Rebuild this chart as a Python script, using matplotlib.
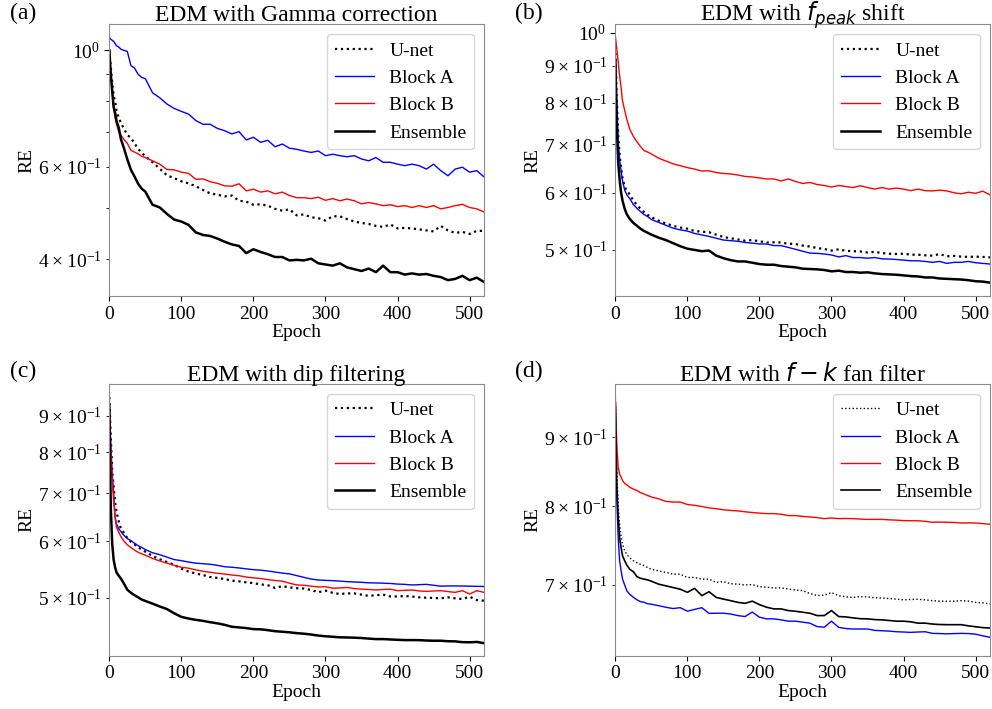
import matplotlib
matplotlib.use("Agg")
import matplotlib.pyplot as plt

plt.rcParams["font.family"] = "serif"
plt.rcParams["font.serif"] = ["Liberation Serif", "DejaVu Serif"]
plt.rcParams["mathtext.fontset"] = "dejavusans"

epochs = [0, 2, 4, 6, 8, 10, 13, 16, 20, 25, 30, 35, 40, 45, 50] + list(range(60, 521, 10))

# (a) EDM with Gamma correction
gamma_unet = [
    1.0, 0.93, 0.87, 0.82, 0.80, 0.767, 0.745, 0.728, 0.71, 0.69, 0.681, 0.665, 0.649, 0.638, 0.628,
    0.612, 0.595, 0.578, 0.571, 0.563, 0.558, 0.551, 0.542, 0.534, 0.531,
    0.527, 0.529, 0.517, 0.515, 0.508, 0.509, 0.506, 0.499, 0.495, 0.498,
    0.485, 0.487, 0.481, 0.479, 0.474, 0.483, 0.483, 0.477, 0.472, 0.469,
    0.467, 0.463, 0.461, 0.466, 0.458, 0.459, 0.458, 0.456, 0.454, 0.452,
    0.463, 0.454, 0.449, 0.451, 0.447, 0.453, 0.453,
]
gamma_block_a = [
    1.057, 1.05, 1.045, 1.04, 1.03, 1.02, 1.015, 1.005, 1.0, 0.995, 0.935, 0.925, 0.90, 0.888, 0.883,
    0.83, 0.812, 0.79, 0.775, 0.765, 0.756, 0.735, 0.723, 0.723, 0.71,
    0.703, 0.693, 0.70, 0.675, 0.683, 0.668, 0.674, 0.655, 0.663, 0.651,
    0.648, 0.643, 0.639, 0.643, 0.630, 0.634, 0.630, 0.627, 0.630, 0.621,
    0.616, 0.625, 0.612, 0.612, 0.607, 0.603, 0.607, 0.603, 0.594, 0.607,
    0.590, 0.577, 0.594, 0.599, 0.586, 0.590, 0.574,
]
gamma_block_b = [
    1.0, 0.91, 0.83, 0.775, 0.745, 0.723, 0.70, 0.69, 0.677, 0.665, 0.645, 0.64, 0.635, 0.628, 0.625,
    0.616, 0.607, 0.593, 0.592, 0.586, 0.583, 0.568, 0.569, 0.562, 0.558,
    0.552, 0.551, 0.557, 0.540, 0.544, 0.537, 0.540, 0.533, 0.537, 0.529,
    0.524, 0.524, 0.522, 0.525, 0.518, 0.522, 0.517, 0.521, 0.517, 0.510,
    0.513, 0.510, 0.506, 0.508, 0.504, 0.506, 0.502, 0.506, 0.502, 0.506,
    0.499, 0.502, 0.506, 0.509, 0.502, 0.499, 0.492,
]
gamma_ensemble = [
    1.0, 0.90, 0.837, 0.78, 0.76, 0.734, 0.713, 0.678, 0.653, 0.62, 0.592, 0.575, 0.557, 0.545, 0.538,
    0.508, 0.502, 0.488, 0.476, 0.472, 0.465, 0.450, 0.445, 0.443, 0.438,
    0.432, 0.427, 0.424, 0.411, 0.418, 0.413, 0.409, 0.404, 0.404, 0.398,
    0.399, 0.398, 0.401, 0.393, 0.391, 0.389, 0.393, 0.386, 0.383, 0.380,
    0.384, 0.378, 0.389, 0.378, 0.378, 0.374, 0.376, 0.374, 0.375, 0.372,
    0.370, 0.365, 0.367, 0.372, 0.365, 0.369, 0.362,
]

# (b) EDM with f_peak shift
fpeak_unet = [
    0.955, 0.81, 0.72, 0.675, 0.65, 0.628, 0.612, 0.603, 0.597, 0.585, 0.577, 0.570, 0.564, 0.559, 0.555,
    0.549, 0.544, 0.540, 0.537, 0.535, 0.531, 0.530, 0.529, 0.525, 0.521,
    0.519, 0.517, 0.515, 0.516, 0.514, 0.512, 0.5123, 0.512, 0.510, 0.5096,
    0.507, 0.5055, 0.503, 0.5015, 0.499, 0.501, 0.4985, 0.498, 0.4975, 0.496,
    0.497, 0.495, 0.494, 0.4936, 0.494, 0.4925, 0.4925, 0.4915, 0.491, 0.4935,
    0.490, 0.4905, 0.4895, 0.489, 0.4894, 0.489, 0.4883,
]
fpeak_block_a = [
    0.945, 0.80, 0.708, 0.665, 0.6436, 0.6234, 0.605, 0.596, 0.589, 0.578, 0.571, 0.565, 0.5596, 0.556, 0.551,
    0.546, 0.541, 0.536, 0.533, 0.531, 0.527, 0.5245, 0.522, 0.519, 0.516,
    0.515, 0.514, 0.512, 0.511, 0.5096, 0.5096, 0.507, 0.507, 0.504, 0.501,
    0.498, 0.495, 0.4946, 0.4935, 0.492, 0.489, 0.491, 0.488, 0.488, 0.487,
    0.488, 0.486, 0.4857, 0.485, 0.484, 0.483, 0.483, 0.482, 0.4806, 0.482,
    0.479, 0.4806, 0.4806, 0.482, 0.480, 0.479, 0.478,
]
fpeak_block_b = [
    0.989, 0.95, 0.91, 0.87, 0.839, 0.804, 0.78, 0.758, 0.735, 0.718, 0.706, 0.695, 0.686, 0.683, 0.679,
    0.670, 0.664, 0.658, 0.654, 0.650, 0.647, 0.643, 0.6435, 0.640, 0.638,
    0.637, 0.635, 0.632, 0.631, 0.629, 0.627, 0.627, 0.623, 0.627, 0.622,
    0.618, 0.620, 0.616, 0.614, 0.611, 0.614, 0.612, 0.610, 0.6135, 0.610,
    0.607, 0.610, 0.607, 0.609, 0.607, 0.604, 0.607, 0.604, 0.6035, 0.605,
    0.6035, 0.600, 0.598, 0.601, 0.599, 0.603, 0.596,
]
fpeak_ensemble = [
    0.91, 0.74, 0.66, 0.625, 0.60, 0.585, 0.570, 0.560, 0.552, 0.545, 0.540, 0.535, 0.531, 0.528, 0.525,
    0.520, 0.516, 0.511, 0.506, 0.502, 0.500, 0.498, 0.499, 0.491, 0.487,
    0.484, 0.482, 0.482, 0.480, 0.478, 0.477, 0.477, 0.475, 0.474, 0.473,
    0.471, 0.4705, 0.470, 0.469, 0.467, 0.468, 0.466, 0.466, 0.465, 0.4655,
    0.464, 0.463, 0.4625, 0.462, 0.461, 0.460, 0.4595, 0.458, 0.458, 0.4565,
    0.456, 0.4555, 0.455, 0.454, 0.4525, 0.452, 0.4505,
]

# (c) EDM with dip filtering
dip_unet = [
    0.955, 0.84, 0.754, 0.715, 0.68, 0.66, 0.64, 0.625, 0.617, 0.606, 0.599, 0.594, 0.588, 0.584, 0.580,
    0.572, 0.566, 0.561, 0.556, 0.549, 0.544, 0.5405, 0.538, 0.5345, 0.533,
    0.531, 0.5283, 0.527, 0.5255, 0.524, 0.522, 0.5205, 0.516, 0.519, 0.517,
    0.5156, 0.515, 0.5126, 0.509, 0.5115, 0.508, 0.506, 0.507, 0.507, 0.505,
    0.503, 0.504, 0.505, 0.502, 0.502, 0.5027, 0.502, 0.5006, 0.500, 0.4995,
    0.499, 0.5006, 0.499, 0.4979, 0.5016, 0.4963, 0.4952,
]
dip_block_a = [
    0.925, 0.82, 0.745, 0.70, 0.648, 0.634, 0.625, 0.619, 0.612, 0.605, 0.601, 0.596, 0.5914, 0.588, 0.584,
    0.578, 0.5745, 0.570, 0.5655, 0.5635, 0.561, 0.559, 0.558, 0.557, 0.555,
    0.5526, 0.5516, 0.5504, 0.5488, 0.5474, 0.5465, 0.545, 0.5432, 0.5413, 0.540,
    0.537, 0.534, 0.531, 0.5294, 0.5288, 0.5283, 0.5275, 0.5266, 0.526, 0.5255,
    0.5246, 0.5244, 0.524, 0.5235, 0.5225, 0.522, 0.521, 0.5215, 0.522, 0.5205,
    0.519, 0.5194, 0.5194, 0.5192, 0.519, 0.5187, 0.5184,
]
dip_block_b = [
    0.93, 0.81, 0.73, 0.685, 0.648, 0.6276, 0.618, 0.609, 0.601, 0.593, 0.588, 0.583, 0.5788, 0.576, 0.5735,
    0.5675, 0.563, 0.559, 0.555, 0.5516, 0.550, 0.547, 0.5445, 0.5428, 0.541,
    0.5397, 0.538, 0.5368, 0.5345, 0.533, 0.532, 0.530, 0.5285, 0.5275, 0.524,
    0.521, 0.5205, 0.519, 0.5177, 0.518, 0.5156, 0.516, 0.5169, 0.515, 0.514,
    0.5135, 0.5126, 0.5135, 0.514, 0.5115, 0.512, 0.5126, 0.511, 0.5103, 0.511,
    0.5115, 0.510, 0.5087, 0.5115, 0.506, 0.5115, 0.5087,
]
dip_ensemble = [
    0.93, 0.67, 0.595, 0.565, 0.5516, 0.5425, 0.5368, 0.532, 0.524, 0.513, 0.508, 0.504, 0.5006, 0.497, 0.4948,
    0.4905, 0.486, 0.482, 0.4755, 0.470, 0.4675, 0.4655, 0.464, 0.462, 0.4603,
    0.4581, 0.4553, 0.4543, 0.4533, 0.4518, 0.4515, 0.4503, 0.4488, 0.448, 0.4472,
    0.446, 0.4452, 0.444, 0.4425, 0.4415, 0.4408, 0.440, 0.4398, 0.4395, 0.439,
    0.4382, 0.4375, 0.4375, 0.437, 0.4365, 0.4361, 0.4361, 0.436, 0.4355, 0.4352,
    0.4352, 0.4345, 0.4343, 0.4332, 0.433, 0.4335, 0.4318,
]

# (d) EDM with f-k fan filter
fk_unet = [
    0.955, 0.85, 0.80, 0.775, 0.76, 0.7505, 0.742, 0.737, 0.733, 0.7295, 0.727, 0.725, 0.7233, 0.721, 0.719,
    0.717, 0.7152, 0.713, 0.713, 0.709, 0.709, 0.707, 0.707, 0.703, 0.704,
    0.7015, 0.701, 0.700, 0.7005, 0.698, 0.6973, 0.6965, 0.6965, 0.6953, 0.694,
    0.6933, 0.690, 0.6875, 0.688, 0.691, 0.6874, 0.686, 0.6854, 0.6862, 0.686,
    0.685, 0.6846, 0.684, 0.6834, 0.6825, 0.683, 0.6832, 0.6825, 0.6816, 0.681,
    0.6808, 0.681, 0.6816, 0.681, 0.6796, 0.679, 0.6777,
]
fk_block_a = [
    0.953, 0.81, 0.758, 0.729, 0.7172, 0.707, 0.700, 0.693, 0.689, 0.6855, 0.6825, 0.6805, 0.6796, 0.678, 0.6775,
    0.6758, 0.674, 0.6725, 0.6735, 0.6695, 0.6715, 0.6735, 0.667, 0.6672, 0.6672,
    0.6663, 0.6645, 0.6634, 0.6685, 0.6627, 0.6608, 0.6608, 0.6597, 0.6582, 0.6582,
    0.6571, 0.656, 0.6522, 0.6515, 0.6582, 0.6513, 0.650, 0.6495, 0.6495, 0.6495,
    0.648, 0.6476, 0.6472, 0.6465, 0.6462, 0.6458, 0.6462, 0.6465, 0.6447, 0.6445,
    0.6442, 0.6445, 0.6447, 0.6445, 0.6438, 0.642, 0.6404,
]
fk_block_b = [
    0.963, 0.89, 0.855, 0.845, 0.8408, 0.836, 0.832, 0.830, 0.8265, 0.824, 0.822, 0.819, 0.817, 0.815, 0.813,
    0.8105, 0.807, 0.806, 0.806, 0.8027, 0.8015, 0.800, 0.798, 0.797, 0.7955,
    0.7946, 0.794, 0.7928, 0.7918, 0.791, 0.7903, 0.7903, 0.7895, 0.7877, 0.7877,
    0.7866, 0.7858, 0.785, 0.7836, 0.7845, 0.7836, 0.7838, 0.7836, 0.783, 0.7826,
    0.7826, 0.7826, 0.782, 0.7816, 0.781, 0.7808, 0.7808, 0.780, 0.7788, 0.779,
    0.7788, 0.7785, 0.7778, 0.778, 0.7778, 0.777, 0.7761,
]
fk_ensemble = [
    0.955, 0.83, 0.785, 0.758, 0.746, 0.7357, 0.7294, 0.724, 0.719, 0.716, 0.710, 0.708, 0.707, 0.706, 0.7045,
    0.701, 0.699, 0.697, 0.695, 0.6913, 0.696, 0.6874, 0.692, 0.6854, 0.6834,
    0.6816, 0.6796, 0.6785, 0.681, 0.677, 0.674, 0.6721, 0.6721, 0.6702, 0.6694,
    0.6683, 0.6672, 0.6645, 0.6645, 0.6702, 0.6634, 0.663, 0.6619, 0.661, 0.6608,
    0.660, 0.6597, 0.659, 0.6582, 0.6582, 0.6575, 0.656, 0.656, 0.655, 0.6545,
    0.6543, 0.6543, 0.6543, 0.653, 0.652, 0.651, 0.6506,
]

panels = [
    ("(a)", "EDM with Gamma correction", (0.3405, 1.12), gamma_unet, gamma_block_a, gamma_block_b, gamma_ensemble),
    ("(b)", "EDM with $f_{peak}$ shift", (0.4317, 1.026), fpeak_unet, fpeak_block_a, fpeak_block_b, fpeak_ensemble),
    ("(c)", "EDM with dip filtering", (0.4147, 0.996), dip_unet, dip_block_a, dip_block_b, dip_ensemble),
    ("(d)", "EDM with $f-k$ fan filter", (0.6207, 0.985), fk_unet, fk_block_a, fk_block_b, fk_ensemble),
]
positions = [
    [0.1102, 0.5825, 0.3777, 0.383],
    [0.6203, 0.5825, 0.3777, 0.383],
    [0.1102, 0.0752, 0.3777, 0.383],
    [0.6203, 0.0752, 0.3777, 0.383],
]

fig = plt.figure(figsize=(9.92, 7.09), dpi=100)

for i, (tag, title, ylim, unet, block_a, block_b, ens) in enumerate(panels):
    ax = fig.add_axes(positions[i])
    thin = i == 3
    ax.plot(epochs, unet, color="k", linestyle=":", lw=1.0 if thin else 1.6, label="U-net")
    ax.plot(epochs, block_a, color="b", lw=1.0, label="Block A")
    ax.plot(epochs, block_b, color="r", lw=1.0, label="Block B")
    ax.plot(epochs, ens, color="k", lw=1.2 if thin else 1.8, label="Ensemble")
    ax.set_yscale("log")
    ax.set_xlim(0, 520)
    ax.set_ylim(*ylim)
    ax.set_xticks([0, 100, 200, 300, 400, 500])
    # title on a fixed baseline so the mathtext titles line up with the plain ones
    ax.text(0.5, 1.012, title, transform=ax.transAxes, fontsize=17, ha="center", va="baseline")
    ax.set_xlabel("Epoch", fontsize=14, labelpad=1)
    ax.set_ylabel("RE", fontsize=14)
    ax.yaxis.set_label_coords(-0.198, 0.5)
    ax.tick_params(axis="both", which="both", labelsize=14)
    for sp in ax.spines.values():
        sp.set_color("0.55")
    ax.legend(loc="upper right", fontsize=14)
    x0 = 0.010 if i % 2 == 0 else 0.519
    y0 = 0.981 if i < 2 else 0.476
    fig.text(x0, y0, tag, fontsize=17, ha="left", va="center")

fig.savefig("out.png", dpi=100)
